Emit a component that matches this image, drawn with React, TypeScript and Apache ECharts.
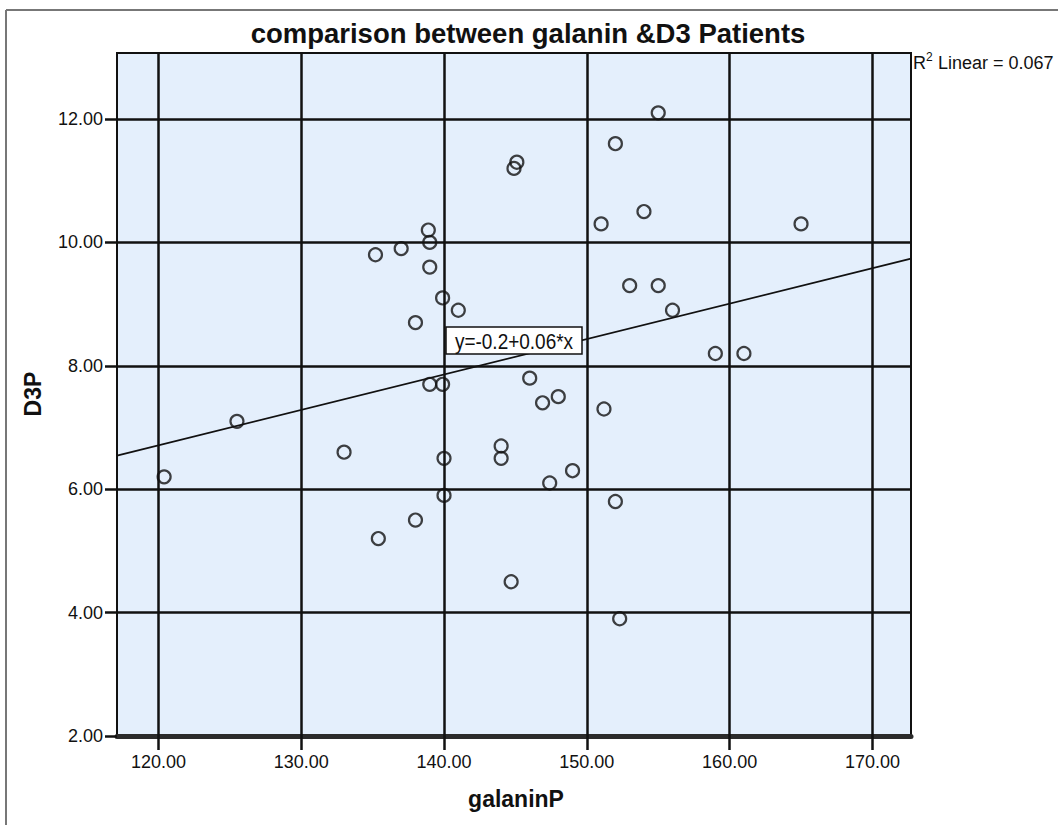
import React, { useEffect, useRef } from 'react';
import * as echarts from 'echarts';

// galanin (x) and vitamin D3 (y) per patient
const galaninP = [
  120.4, 125.5, 133.0, 135.4, 138.0, 135.2, 137.0, 138.9, 139.0, 139.0,
  138.0, 139.9, 141.0, 139.0, 139.9, 140.0, 140.0, 144.0, 144.0, 146.0,
  146.9, 148.0, 151.2, 149.0, 147.4, 152.0, 144.7, 152.3, 155.0, 152.0,
  145.1, 144.9, 154.0, 151.0, 165.0, 153.0, 155.0, 156.0, 159.0, 161.0,
];
const d3P = [
  6.2, 7.1, 6.6, 5.2, 5.5, 9.8, 9.9, 10.2, 10.0, 9.6,
  8.7, 9.1, 8.9, 7.7, 7.7, 6.5, 5.9, 6.7, 6.5, 7.8,
  7.4, 7.5, 7.3, 6.3, 6.1, 5.8, 4.5, 3.9, 12.1, 11.6,
  11.3, 11.2, 10.5, 10.3, 10.3, 9.3, 9.3, 8.9, 8.2, 8.2,
];
const xTicks = [120, 130, 140, 150, 160, 170];
const yTicks = [2, 4, 6, 8, 10, 12];
const xRange = [117.1, 172.7];
const yRange = [2, 13.07];

// ordinary least squares fit y = a + b*x
function linearFit(xs: number[], ys: number[]) {
  const n = xs.length;
  const mx = xs.reduce((s, v) => s + v, 0) / n;
  const my = ys.reduce((s, v) => s + v, 0) / n;
  let sxy = 0, sxx = 0, syy = 0;
  for (let i = 0; i < n; i++) {
    const dx = xs[i] - mx, dy = ys[i] - my;
    sxy += dx * dy; sxx += dx * dx; syy += dy * dy;
  }
  const b = sxy / sxx;
  const a = my - b * mx;
  return { a, b, r2: (sxy * sxy) / (sxx * syy) };
}

const FONT = '"Liberation Sans", Arial, sans-serif';

export default function App() {
  const ref = useRef<HTMLDivElement>(null);

  useEffect(() => {
    if (!ref.current) return;
    const chart = echarts.init(ref.current, null, { renderer: 'svg' });
    const fit = linearFit(galaninP, d3P);
    const points = galaninP.map((x, i) => [x, d3P[i]]);
    const fitLine = xRange.map((x) => [x, fit.a + fit.b * x]);
    const eq = `y=${fit.a.toFixed(1)}+${fit.b.toFixed(2)}*x`;

    chart.setOption({
      animation: false,
      backgroundColor: '#ffffff',
      textStyle: { fontFamily: FONT },
      grid: {
        left: 117, right: 147, top: 53, bottom: 89,
        show: true, backgroundColor: '#e4effc',
        borderColor: '#111', borderWidth: 2,
      },
      xAxis: {
        type: 'value', min: xRange[0], max: xRange[1],
        axisLine: { show: true, onZero: false, lineStyle: { color: '#2b2b2b', width: 5 } },
        axisTick: { show: true, customValues: xTicks, length: 14, lineStyle: { color: '#111', width: 2.5 } },
        axisLabel: {
          customValues: xTicks, formatter: (v: number) => v.toFixed(2),
          fontSize: 18, color: '#111', margin: 17, fontFamily: FONT,
        },
        splitLine: { show: false },
      },
      yAxis: {
        type: 'value', min: yRange[0], max: yRange[1],
        axisLine: { show: true, onZero: false, lineStyle: { color: '#111', width: 2 } },
        axisTick: { show: true, customValues: yTicks, length: 12, lineStyle: { color: '#111', width: 2.5 } },
        axisLabel: {
          customValues: yTicks, formatter: (v: number) => v.toFixed(2),
          fontSize: 18, color: '#111', margin: 14, fontFamily: FONT,
        },
        splitLine: { show: false },
      },
      series: [
        {
          type: 'scatter',
          data: points,
          symbol: 'circle',
          symbolSize: 13,
          itemStyle: { color: 'rgba(0,0,0,0)', borderColor: '#111', borderWidth: 2.2 },
          markLine: {
            silent: true,
            symbol: ['none', 'none'],
            label: { show: false },
            lineStyle: { type: 'solid', color: '#111', width: 2.5 },
            data: [
              ...xTicks.map((v) => ({ xAxis: v })),
              ...yTicks.filter((v) => v > yRange[0]).map((v) => ({ yAxis: v })),
            ],
          },
        },
        {
          type: 'line',
          data: fitLine,
          showSymbol: false,
          lineStyle: { color: '#111', width: 1.8 },
          z: 3,
        },
      ],
      graphic: [
        { type: 'line', shape: { x1: 6, y1: 10, x2: 6, y2: 825 }, style: { stroke: '#777', lineWidth: 2 } },
        { type: 'line', shape: { x1: 6, y1: 10, x2: 1058, y2: 10 }, style: { stroke: '#777', lineWidth: 2 } },
        {
          type: 'text', x: 528, y: 33,
          style: {
            text: 'comparison between galanin &D3 Patients', fontFamily: FONT,
            fontSize: 27.5, fontWeight: 'bold', fill: '#111', align: 'center', verticalAlign: 'middle',
          },
        },
        {
          type: 'text', x: 516, y: 799,
          style: {
            text: 'galaninP', fontFamily: FONT, fontSize: 23, fontWeight: 'bold',
            fill: '#111', align: 'center', verticalAlign: 'middle',
          },
        },
        {
          type: 'text', x: 33, y: 394, rotation: Math.PI / 2,
          style: {
            text: 'D3P', fontFamily: FONT, fontSize: 23, fontWeight: 'bold',
            fill: '#111', align: 'center', verticalAlign: 'middle',
          },
        },
        {
          type: 'text', x: 913, y: 63,
          style: { text: 'R', fontFamily: FONT, fontSize: 18, fill: '#111', align: 'left', verticalAlign: 'middle' },
        },
        {
          type: 'text', x: 926, y: 57,
          style: { text: '2', fontFamily: FONT, fontSize: 12, fill: '#111', align: 'left', verticalAlign: 'middle' },
        },
        {
          type: 'text', x: 938, y: 63,
          style: {
            text: `Linear = ${fit.r2.toFixed(3)}`, fontFamily: FONT, fontSize: 18,
            fill: '#111', align: 'left', verticalAlign: 'middle',
          },
        },
        {
          type: 'rect', shape: { x: 446, y: 327, width: 136, height: 27 },
          style: { fill: '#ffffff', stroke: '#111', lineWidth: 1.5 }, z: 10,
        },
        {
          type: 'text', x: 514, y: 341, z: 11, scaleY: 1.2,
          style: {
            text: eq, fontFamily: FONT, fontSize: 19, fill: '#111',
            align: 'center', verticalAlign: 'middle',
          },
        },
      ],
    });
    return () => chart.dispose();
  }, []);

  return (
    <div
      ref={ref}
      style={{ position: 'absolute', left: 0, top: 0, width: 1058, height: 825, background: '#fff' }}
    />
  );
}
